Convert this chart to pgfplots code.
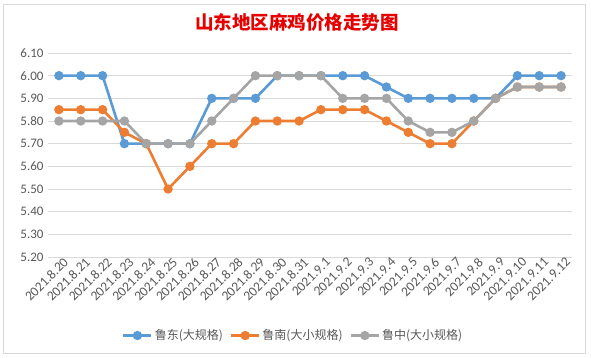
\documentclass[border=0pt]{standalone}
\usepackage{pgfplots}
\pgfplotsset{compat=1.18}
\usepackage{fontspec}
\setmainfont{Carlito}
\newfontfamily\cjk{Noto Sans CJK SC}
\definecolor{cblue}{HTML}{5B9BD5}
\definecolor{corange}{HTML}{ED7D31}
\definecolor{cgray}{HTML}{A5A5A5}
\definecolor{gridc}{HTML}{D9D9D9}
\definecolor{txt}{HTML}{595959}
\definecolor{titlered}{HTML}{E60000}
\begin{document}
\begin{tikzpicture}[x=1pt,y=1pt]
\fill[white] (0,0) rectangle (591,357);
\draw[gridc, line width=0.8pt] (3,4) rectangle (585,353);
\node[text=titlered, font={\cjk\bfseries\fontsize{18.5}{20}\selectfont}] at (297,335) {山东地区麻鸡价格走势图};
\begin{axis}[
  at={(48pt,100pt)}, anchor=south west,
  scale only axis, width=524pt, height=204pt,
  xmin=-0.5, xmax=23.5, ymin=5.2, ymax=6.1,
  ytick={5.2,5.3,5.4,5.5,5.6,5.7,5.8,5.9,6.0,6.1},
  yticklabel style={/pgf/number format/fixed, /pgf/number format/fixed zerofill, /pgf/number format/precision=2, /pgf/number format/assume math mode=true},
  yticklabel style={text=txt, font=\fontsize{13}{15}\selectfont, xshift=-1pt},
  xtick={0,...,23},
  xticklabels={2021.8.20,2021.8.21,2021.8.22,2021.8.23,2021.8.24,2021.8.25,2021.8.26,2021.8.27,2021.8.28,2021.8.29,2021.8.30,2021.8.31,2021.9.1,2021.9.2,2021.9.3,2021.9.4,2021.9.5,2021.9.6,2021.9.7,2021.9.8,2021.9.9,2021.9.10,2021.9.11,2021.9.12},
  xticklabel style={rotate=45, anchor=east, text=txt, font=\fontsize{13.5}{15}\selectfont, xshift=4pt, yshift=-7pt, inner sep=1pt},
  axis line style={draw=none},
  major tick length=0pt,
  ymajorgrids, grid style={gridc, line width=0.8pt},
  clip=false,
  legend columns=3,
  legend style={at={(0.468,-0.385)}, anchor=center, draw=none, fill=none,
    font={\cjk\fontsize{12}{13}\selectfont}, text=txt,
    /tikz/every even column/.append style={column sep=5pt}},
  legend image code/.code={\draw[mark repeat=2,mark phase=2,#1] plot coordinates {(0pt,0pt) (14pt,0pt) (28pt,0pt)};},
  every axis plot/.append style={line width=2.6pt, mark=*, mark size=3.3pt, mark options={line width=0pt}},
]
\addplot[cblue, mark options={fill=cblue, draw=cblue}] coordinates {
(0,6.00)(1,6.00)(2,6.00)(3,5.70)(4,5.70)(5,5.70)(6,5.70)(7,5.90)(8,5.90)(9,5.90)(10,6.00)(11,6.00)
(12,6.00)(13,6.00)(14,6.00)(15,5.95)(16,5.90)(17,5.90)(18,5.90)(19,5.90)(20,5.90)(21,6.00)(22,6.00)(23,6.00)};
\addlegendentry{鲁东(大规格)}
\addplot[corange, mark options={fill=corange, draw=corange}] coordinates {
(0,5.85)(1,5.85)(2,5.85)(3,5.75)(4,5.70)(5,5.50)(6,5.60)(7,5.70)(8,5.70)(9,5.80)(10,5.80)(11,5.80)
(12,5.85)(13,5.85)(14,5.85)(15,5.80)(16,5.75)(17,5.70)(18,5.70)(19,5.80)(20,5.90)(21,5.95)(22,5.95)(23,5.95)};
\addlegendentry{鲁南(大小规格)}
\addplot[cgray, mark options={fill=cgray, draw=cgray}] coordinates {
(0,5.80)(1,5.80)(2,5.80)(3,5.80)(4,5.70)(5,5.70)(6,5.70)(7,5.80)(8,5.90)(9,6.00)(10,6.00)(11,6.00)
(12,6.00)(13,5.90)(14,5.90)(15,5.90)(16,5.80)(17,5.75)(18,5.75)(19,5.80)(20,5.90)(21,5.95)(22,5.95)(23,5.95)};
\addlegendentry{鲁中(大小规格)}
\end{axis}
\end{tikzpicture}
\end{document}
